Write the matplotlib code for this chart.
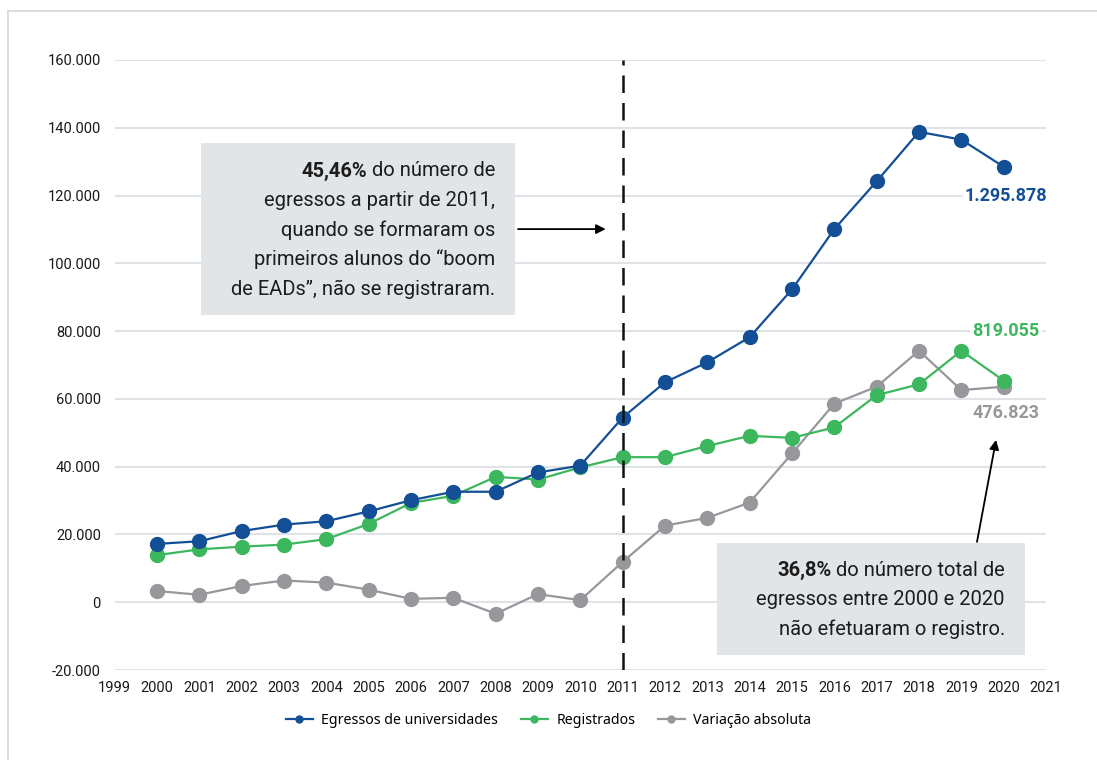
import matplotlib
matplotlib.use("Agg")
import matplotlib.pyplot as plt
from matplotlib.patches import Rectangle
from matplotlib.lines import Line2D

# ---- data ----
years = list(range(2000, 2021))
egressos = [17200, 18000, 21000, 22900, 23900, 26800, 30100, 32600, 32600, 38300, 40300,
            54500, 64900, 70800, 78200, 92300, 110100, 124200, 138800, 136500, 128500]
registrados = [13900, 15600, 16400, 17000, 18600, 23100, 29300, 31400, 37000, 36200, 39800,
               42800, 42800, 46100, 49100, 48500, 51600, 61100, 64300, 74200, 65400]
variacao = [3300, 2200, 4800, 6400, 5800, 3700, 1000, 1300, -3400, 2400, 600,
            11900, 22600, 24900, 29400, 43900, 58600, 63600, 74200, 62600, 63600]
series_names = ["Egressos de universidades", "Registrados", "Variação absoluta"]
total_labels = ["1.295.878", "819.055", "476.823"]
x_ticks = list(range(1999, 2022))
y_ticks = list(range(-20000, 160001, 20000))

BLUE = "#134f96"
GREEN = "#3cb75e"
GRAY = "#97989c"
GRID = "#dfe3e7"
BOX = "#e1e5e8"

plt.rcParams["font.family"] = ["Roboto", "DejaVu Sans"]

W, H = 1097, 760
fig = plt.figure(figsize=(W / 100, H / 100), dpi=100)

def fx(px):
    return px / W

def fy(py):
    return 1 - py / H

# outer frame (top and left edges visible)
fig.add_artist(Line2D([fx(8), fx(8)], [fy(11), 0], color="#d5d8dc", lw=1.2))
fig.add_artist(Line2D([fx(8), 1], [fy(11), fy(11)], color="#d5d8dc", lw=1.2))

ax = fig.add_axes([fx(114.65), fy(670), fx(1046 - 114.65), fy(60) - fy(670)])
ax.set_xlim(1999, 2021)
ax.set_ylim(-20000, 160000)
for s in ax.spines.values():
    s.set_visible(False)
ax.set_yticks(y_ticks)
ax.set_yticklabels([f"{v:,}".replace(",", ".") for v in y_ticks])
ax.set_xticks(x_ticks)
ax.set_xticklabels([str(v) for v in x_ticks])
ax.tick_params(axis="both", length=0, labelsize=10.5, labelcolor="#1a1a1a")
ax.tick_params(axis="y", pad=10)
ax.tick_params(axis="x", pad=8)
ax.yaxis.grid(True, color=GRID, lw=1.5)
ax.set_axisbelow(True)

for vals, col, name in [(egressos, BLUE, series_names[0]),
                        (registrados, GREEN, series_names[1]),
                        (variacao, GRAY, series_names[2])][::-1]:
    ax.plot(years, vals, color=col, lw=1.6, marker="o", markersize=10, label=name, zorder=3)

# vertical dashed reference line at 2011
ax.axvline(2011, color="#111111", lw=1.8, dashes=(7, 4), zorder=4)

# totals at the end of each series
lab_kw = dict(ha="right", va="center", fontsize=13, fontweight="bold",
              bbox=dict(boxstyle="square,pad=0.15", fc="white", ec="none"), zorder=5)
ax.text(2021.03, 120000, total_labels[0], color=BLUE, **lab_kw)
ax.text(2020.85, 80000, total_labels[1], color=GREEN, **lab_kw)
ax.text(2020.85, 55800, total_labels[2], color=GRAY, **lab_kw)

# annotation boxes
fig.add_artist(Rectangle((fx(201), fy(315)), fx(515 - 201), fy(143) - fy(315),
                         fc=BOX, ec="none", zorder=6))
fig.add_artist(Rectangle((fx(717), fy(655)), fx(1025 - 717), fy(543) - fy(655),
                         fc=BOX, ec="none", zorder=6))

FS = 14.5
fig.canvas.draw()
renderer = fig.canvas.get_renderer()

def box_text(x_right, y_top, first_bold, first_rest, lines, lh):
    t = fig.text(fx(x_right), fy(y_top), first_rest, ha="right", va="center",
                 fontsize=FS, color="#1c1c1c", zorder=7)
    bb = t.get_window_extent(renderer)
    fig.text(bb.x0 / W, fy(y_top), first_bold, ha="right", va="center",
             fontsize=FS, fontweight="bold", color="#1c1c1c", zorder=7)
    for i, ln in enumerate(lines, start=1):
        fig.text(fx(x_right), fy(y_top + i * lh), ln, ha="right", va="center",
                 fontsize=FS, color="#1c1c1c", zorder=7)

box_text(495, 171, "45,46%", " do número de",
         ["egressos a partir de 2011,", "quando se formaram os",
          "primeiros alunos do \u201cboom", "de EADs\u201d, não se registraram."], 29.5)
box_text(1005, 570, "36,8%", " do número total de",
         ["egressos entre 2000 e 2020", "não efetuaram o registro."], 29.5)

# arrows
ax.annotate("", xy=(2010.6, 110100), xytext=(2008.53, 110100),
            arrowprops=dict(arrowstyle="-|>", color="black", lw=1.3, mutation_scale=14,
                            shrinkA=0, shrinkB=0), zorder=7)
ax.annotate("", xy=(2019.82, 47900), xytext=(2019.37, 17800),
            arrowprops=dict(arrowstyle="-|>", color="black", lw=1.3, mutation_scale=14,
                            shrinkA=0, shrinkB=0), zorder=7)

# legend
handles = [Line2D([0], [0], color=c, lw=1.6, marker="o", markersize=5) for c in (BLUE, GREEN, GRAY)]
fig.legend(handles, series_names, loc="center", bbox_to_anchor=(0.5, fy(720)), ncol=3,
           frameon=False, handlelength=1.9, columnspacing=1.6, handletextpad=0.6,
           prop={"family": ["Noto Sans", "DejaVu Sans"], "size": 10.2})

fig.savefig("out.png", dpi=100)
